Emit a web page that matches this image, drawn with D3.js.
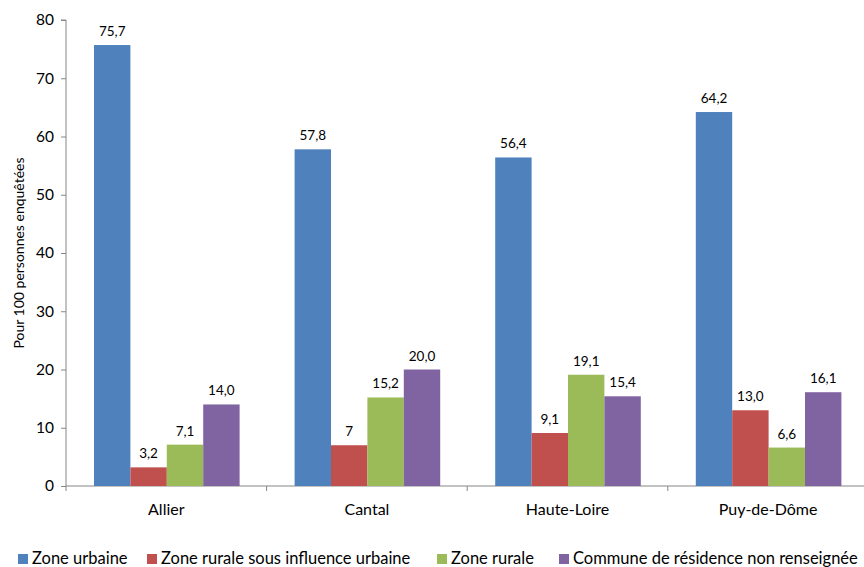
<!DOCTYPE html>
<html><head><meta charset="utf-8">
<script src="https://cdn.jsdelivr.net/npm/d3@7"></script>
<style>body{margin:0;background:#fff}svg{display:block}text{font-family:Lato,"Open Sans",sans-serif}</style>
</head><body><svg id="c" width="864" height="567"></svg>
<script>
const categories = ["Allier","Cantal","Haute-Loire","Puy-de-Dôme"];
const seriesNames = ["Zone urbaine","Zone rurale sous influence urbaine","Zone rurale","Commune de résidence non renseignée"];
const zoneUrbaine = [75.7,57.8,56.4,64.2];
const zoneRuraleInfluence = [3.2,7,9.1,13.0];
const zoneRurale = [7.1,15.2,19.1,6.6];
const nonRenseignee = [14.0,20.0,15.4,16.1];
const labelUrbaine = ["75,7","57,8","56,4","64,2"];
const labelRuraleInfluence = ["3,2","7","9,1","13,0"];
const labelRurale = ["7,1","15,2","19,1","6,6"];
const labelNonRens = ["14,0","20,0","15,4","16,1"];
const yTicks = [0,10,20,30,40,50,60,70,80];
const colors = ["#4F81BD","#C0504D","#9BBB59","#8064A2"];

(function(){
const series = [zoneUrbaine,zoneRuraleInfluence,zoneRurale,nonRenseignee];
const labels = [labelUrbaine,labelRuraleInfluence,labelRurale,labelNonRens];

const svg = d3.select("#c");
const mLeft = 66, mBottom = 486, mTop = 20, step = 200.6;
const x0 = d3.scaleBand().domain(categories).range([mLeft, mLeft + step*4]).paddingInner(0).paddingOuter(0);
const x1 = d3.scaleBand().domain(d3.range(4)).range([28, step-27]);
const y = d3.scaleLinear().domain([0,80]).range([mBottom, mTop]);

const ya = svg.append("g").attr("transform",`translate(${mLeft},0)`)
  .call(d3.axisLeft(y).tickValues(yTicks).tickSize(5).tickPadding(7));
ya.select(".domain").attr("stroke","#868686").attr("d",`M-5,${mTop}H0V${mBottom}`);
ya.selectAll(".tick line").attr("stroke","#868686");
ya.selectAll(".tick text").attr("font-size",15.5).attr("fill","#000").attr("font-family","Lato, sans-serif");

const xa = svg.append("g").attr("transform",`translate(0,${mBottom})`);
xa.append("line").attr("x1",mLeft).attr("x2",864).attr("y1",0).attr("y2",0).attr("stroke","#868686");
xa.selectAll(".tk").data(d3.range(5)).join("line")
  .attr("x1",i=>mLeft+i*step).attr("x2",i=>mLeft+i*step).attr("y1",0).attr("y2",5).attr("stroke","#868686");
xa.selectAll(".cl").data(categories).join("text")
  .attr("x",d=>x0(d)+step/2).attr("y",29).attr("text-anchor","middle").attr("font-size",16).text(d=>d);

svg.append("text").attr("transform","translate(24,253) rotate(-90)").attr("text-anchor","middle")
  .attr("font-size",14).text("Pour 100 personnes enquêtées");

const g = svg.append("g");
series.forEach((vals,si)=>{
  g.selectAll(".b"+si).data(categories).join("rect").attr("class","b"+si)
    .attr("x",(c)=>x0(c)+x1(si)).attr("width",x1.bandwidth())
    .attr("y",(c,i)=>y(vals[i])).attr("height",(c,i)=>mBottom-y(vals[i]))
    .attr("fill",colors[si]);
  g.selectAll(".l"+si).data(categories).join("text").attr("class","l"+si)
    .attr("x",(c)=>x0(c)+x1(si)+x1.bandwidth()/2).attr("y",(c,i)=>y(vals[i])-9)
    .attr("text-anchor","middle").attr("font-size",13.5).text((c,i)=>labels[si][i]);
});

const legX = [18,147,437,559];
const lg = svg.append("g").attr("transform","translate(0,558)");
seriesNames.forEach((n,i)=>{
  lg.append("rect").attr("x",legX[i]).attr("y",-4).attr("width",10).attr("height",10).attr("fill",colors[i]);
  lg.append("text").attr("x",legX[i]+14).attr("y",6).attr("font-size",16.5).text(n);
});
})();
</script></body></html>
